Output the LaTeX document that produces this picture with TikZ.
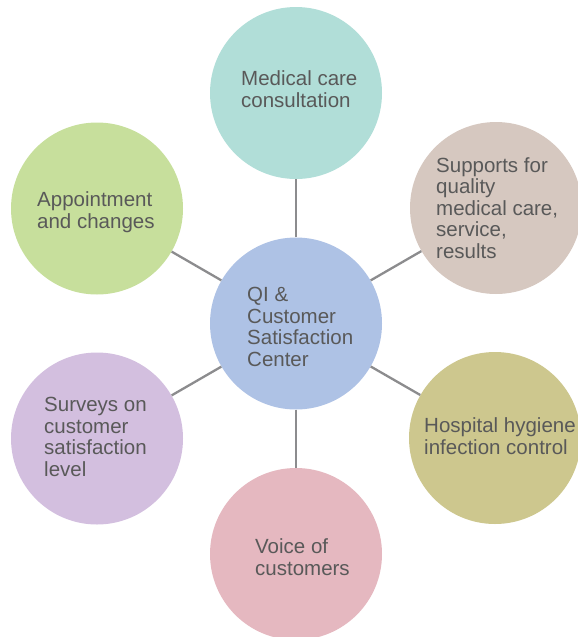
\documentclass[tikz,border=0pt]{standalone}
\usepackage{fontspec}
\setmainfont{Liberation Sans}
\definecolor{cCenter}{HTML}{AEC2E5}
\definecolor{cTop}{HTML}{B1DED8}
\definecolor{cUR}{HTML}{D6C8C0}
\definecolor{cLR}{HTML}{CDC78E}
\definecolor{cBot}{HTML}{E5B8C0}
\definecolor{cLL}{HTML}{D3BFDF}
\definecolor{cUL}{HTML}{C7DF9C}
\definecolor{txtgray}{HTML}{595959}
\definecolor{linegray}{HTML}{8C8C8E}
\begin{document}
\begin{tikzpicture}[x=1pt,y=-1pt,
  bub/.style={circle,minimum size=172pt,inner sep=0pt,draw=none},
  lbl/.style={anchor=base west,align=left,inner sep=0pt,text=txtgray,
    font=\fontsize{20.5}{21.4}\selectfont},
  link/.style={draw=linegray,line width=2.3pt}]
\useasboundingbox (0,0) rectangle (578,637);
\node[bub,fill=cCenter] (c) at (296,323.5) {};
\node[bub,fill=cTop] (top) at (296,93) {};
\node[bub,fill=cUR] (ur) at (496,208) {};
\node[bub,fill=cLR] (lr) at (495,438) {};
\node[bub,fill=cBot] (bot) at (296,554) {};
\node[bub,fill=cLL] (ll) at (97,438.5) {};
\node[bub,fill=cUL] (ul) at (97,208.5) {};
\draw[link] (c) -- (top);
\draw[link] (c) -- (ur);
\draw[link] (c) -- (lr);
\draw[link] (c) -- (bot);
\draw[link] (c) -- (ll);
\draw[link] (c) -- (ul);
\node[lbl] (tc) at (247,366) {QI \&\\Customer\\Satisfaction\\Center};
\node[lbl] (ttop) at (241,107) {Medical care\\consultation};
\node[lbl] (tur) at (436,258) {Supports for\\quality\\medical care,\\service,\\results};
\node[lbl] (tlr) at (424,454) {Hospital hygiene\\infection control};
\node[lbl] (tbot) at (255,575) {Voice of\\customers};
\node[lbl] (tll) at (44,476) {Surveys on\\customer\\satisfaction\\level};
\node[lbl] (tul) at (37,228) {Appointment\\and changes};
\end{tikzpicture}
\end{document}
